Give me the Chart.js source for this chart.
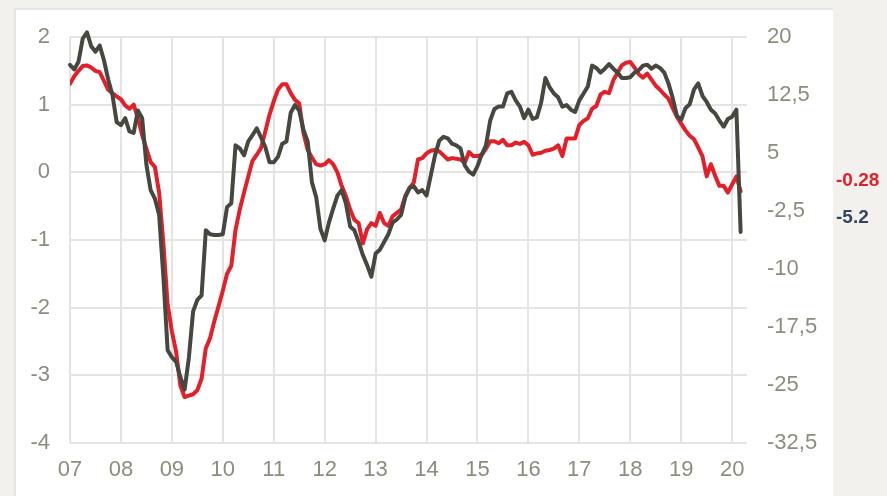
<!DOCTYPE html>
<html>
<head>
<meta charset="utf-8">
<script src="https://cdn.jsdelivr.net/npm/chart.js@4.4.1/dist/chart.umd.min.js"></script>
<style>
  html, body { margin: 0; padding: 0; }
  body { width: 887px; height: 496px; background: #f2f1ee; overflow: hidden; position: relative; font-family: "Liberation Sans", Arial, sans-serif; }
  #panel { position: absolute; left: 14px; top: 8px; width: 819px; height: 488px; background: #fff;
           border-top: 2px solid #e5e5e3; border-left: 2px solid #e5e5e3; box-sizing: border-box; }
  #wrap { position: absolute; left: 0; top: 0; width: 887px; height: 496px; }
  .last { position: absolute; left: 836px; font-weight: bold; font-size: 19px; line-height: 22px; }
</style>
</head>
<body>
<div id="panel"></div>
<div id="wrap"><canvas id="line"></canvas></div>
<div class="last" id="lastRed" style="top:169px;color:#e3202a"></div>
<div class="last" id="lastDark" style="top:206px;color:#34475a"></div>
<script>
// monthly, Jan 2007 .. Mar 2020
const yearLabels = ['07', '08', '09', '10', '11', '12', '13', '14', '15', '16', '17', '18', '19', '20'];
const leftTicks = [2, 1, 0, -1, -2, -3, -4];
const rightTicks = [20, 12.5, 5, -2.5, -10, -17.5, -25, -32.5];

// red series, left axis
const redSeries = [
  1.31, 1.42, 1.50, 1.57, 1.58, 1.55, 1.50, 1.48, 1.35, 1.22,
  1.17, 1.12, 1.08, 0.99, 0.94, 1.00, 0.80, 0.55, 0.35, 0.15,
  0.08, -0.30, -1.05, -1.95, -2.35, -2.65, -3.15, -3.32, -3.30, -3.28,
  -3.22, -3.05, -2.60, -2.45, -2.20, -1.98, -1.75, -1.50, -1.38, -0.85,
  -0.55, -0.30, -0.06, 0.17, 0.26, 0.36, 0.60, 0.85, 1.05, 1.22,
  1.30, 1.30, 1.17, 1.07, 1.02, 0.58, 0.33, 0.22, 0.12, 0.10,
  0.12, 0.18, 0.12, 0.00, -0.20, -0.35, -0.55, -0.70, -0.75, -1.05,
  -0.84, -0.75, -0.79, -0.60, -0.75, -0.79, -0.65, -0.60, -0.55, -0.35,
  -0.23, -0.15, 0.19, 0.21, 0.28, 0.32, 0.33, 0.31, 0.25, 0.19,
  0.21, 0.20, 0.19, 0.14, 0.30, 0.24, 0.24, 0.26, 0.35, 0.46,
  0.46, 0.43, 0.48, 0.40, 0.40, 0.44, 0.42, 0.45, 0.40, 0.26,
  0.28, 0.29, 0.32, 0.33, 0.35, 0.40, 0.24, 0.50, 0.50, 0.50,
  0.70, 0.76, 0.80, 0.94, 0.98, 1.15, 1.19, 1.17, 1.36, 1.47,
  1.58, 1.62, 1.63, 1.55, 1.45, 1.40, 1.46, 1.37, 1.28, 1.22,
  1.15, 1.09, 0.95, 0.82, 0.72, 0.62, 0.54, 0.49, 0.37, 0.24,
  -0.06, 0.12, -0.05, -0.20, -0.20, -0.30, -0.18, -0.06, -0.28
];

// dark series, right axis
const darkSeries = [
  16.4, 15.8, 16.8, 19.8, 20.6, 18.8, 18.1, 18.9, 17.0, 14.5,
  12.5, 9.0, 8.6, 9.5, 7.8, 7.6, 10.5, 9.5, 3.5, 0.2,
  -0.9, -3.0, -11.0, -20.5, -21.4, -22.0, -24.0, -25.6, -21.5, -15.5,
  -14.0, -13.4, -5.0, -5.5, -5.6, -5.6, -5.5, -2.0, -1.5, 6.0,
  5.6, 4.7, 6.5, 7.3, 8.2, 7.0, 5.8, 3.8, 3.8, 4.5,
  6.2, 6.5, 10.2, 11.2, 10.5, 8.0, 6.5, 1.2, -0.7, -4.8,
  -6.3, -4.0, -2.2, -0.5, 0.2, -1.5, -4.5, -5.0, -6.5, -8.2,
  -9.5, -11.0, -8.0, -7.5, -6.5, -5.5, -4.0, -3.6, -3.0, -0.7,
  0.5, 0.7, -0.1, 0.2, -0.5, 2.1, 4.7, 6.6, 7.1, 6.9,
  6.2, 6.0, 5.6, 3.4, 2.6, 2.2, 3.3, 4.8, 6.0, 9.2,
  10.7, 11.0, 11.0, 12.7, 12.9, 11.8, 11.0, 9.5, 10.6, 9.4,
  9.6, 11.5, 14.7, 13.5, 12.7, 12.2, 11.0, 11.2, 10.6, 10.3,
  11.8, 12.7, 13.6, 16.3, 16.0, 15.4, 15.9, 16.5, 15.9, 15.4,
  14.7, 14.7, 14.8, 15.4, 15.7, 16.3, 16.4, 15.9, 16.3, 16.0,
  15.4, 14.0, 12.1, 9.8, 9.3, 10.8, 11.3, 13.2, 14.0, 12.4,
  11.6, 10.6, 10.1, 9.2, 8.4, 9.4, 9.7, 10.6, -5.2
];

const gridColor = '#e4e4e2';
const tickColor = '#8c8d7e';
const tickFont = { family: '"Liberation Sans", Arial, sans-serif', size: 22 };

document.getElementById('lastRed').textContent = String(redSeries[redSeries.length - 1]);
document.getElementById('lastDark').textContent = String(darkSeries[darkSeries.length - 1]);

const ctx = document.getElementById('line');

const line = new Chart(ctx, {
  type: 'line',
  data: {
    datasets: [{
      label: 'dark',
      data: darkSeries.map((v, i) => ({ x: i, y: v })),
      yAxisID: 'yR',
      borderColor: '#46473f',
      borderWidth: 4,
      order: 0,
      clip: false
    }, {
      label: 'red',
      data: redSeries.map((v, i) => ({ x: i, y: v })),
      yAxisID: 'yL',
      borderColor: '#e3202a',
      borderWidth: 4,
      order: 1
    }]
  },
  options: {
    responsive: true,
    maintainAspectRatio: false,
    animation: false,
    layout: { padding: { left: 0, top: 37, right: 50, bottom: 0 } },
    elements: {
      point: { radius: 0 },
      line: { tension: 0, borderJoinStyle: 'round', borderCapStyle: 'round' }
    },
    plugins: { legend: { display: false }, tooltip: { enabled: false } },
    scales: {
      x: {
        type: 'linear',
        min: 0,
        max: 159.5,
        afterBuildTicks: s => { s.ticks = yearLabels.map((_, i) => ({ value: i * 12 })); },
        afterFit: s => { s.height = 53; },
        grid: { color: gridColor, lineWidth: 2, drawTicks: false },
        border: { display: false },
        ticks: {
          color: tickColor, font: tickFont, padding: 14,
          maxRotation: 0, autoSkip: false,
          callback: (v, i) => yearLabels[i]
        }
      },
      yL: {
        position: 'left',
        min: -4,
        max: 2,
        afterBuildTicks: s => { s.ticks = leftTicks.map(v => ({ value: v })); },
        afterFit: s => { s.width = 70; },
        grid: { color: gridColor, lineWidth: 2, drawTicks: false },
        border: { display: false },
        ticks: { color: tickColor, font: tickFont, padding: 20 }
      },
      yR: {
        position: 'right',
        min: -32.5,
        max: 20,
        afterBuildTicks: s => { s.ticks = rightTicks.map(v => ({ value: v })); },
        afterFit: s => { s.width = 90; },
        grid: { display: false, drawTicks: false },
        border: { display: false },
        ticks: {
          color: tickColor, font: tickFont, padding: 20,
          callback: v => String(v).replace('.', ',')
        }
      }
    }
  }
});
</script>
</body>
</html>
